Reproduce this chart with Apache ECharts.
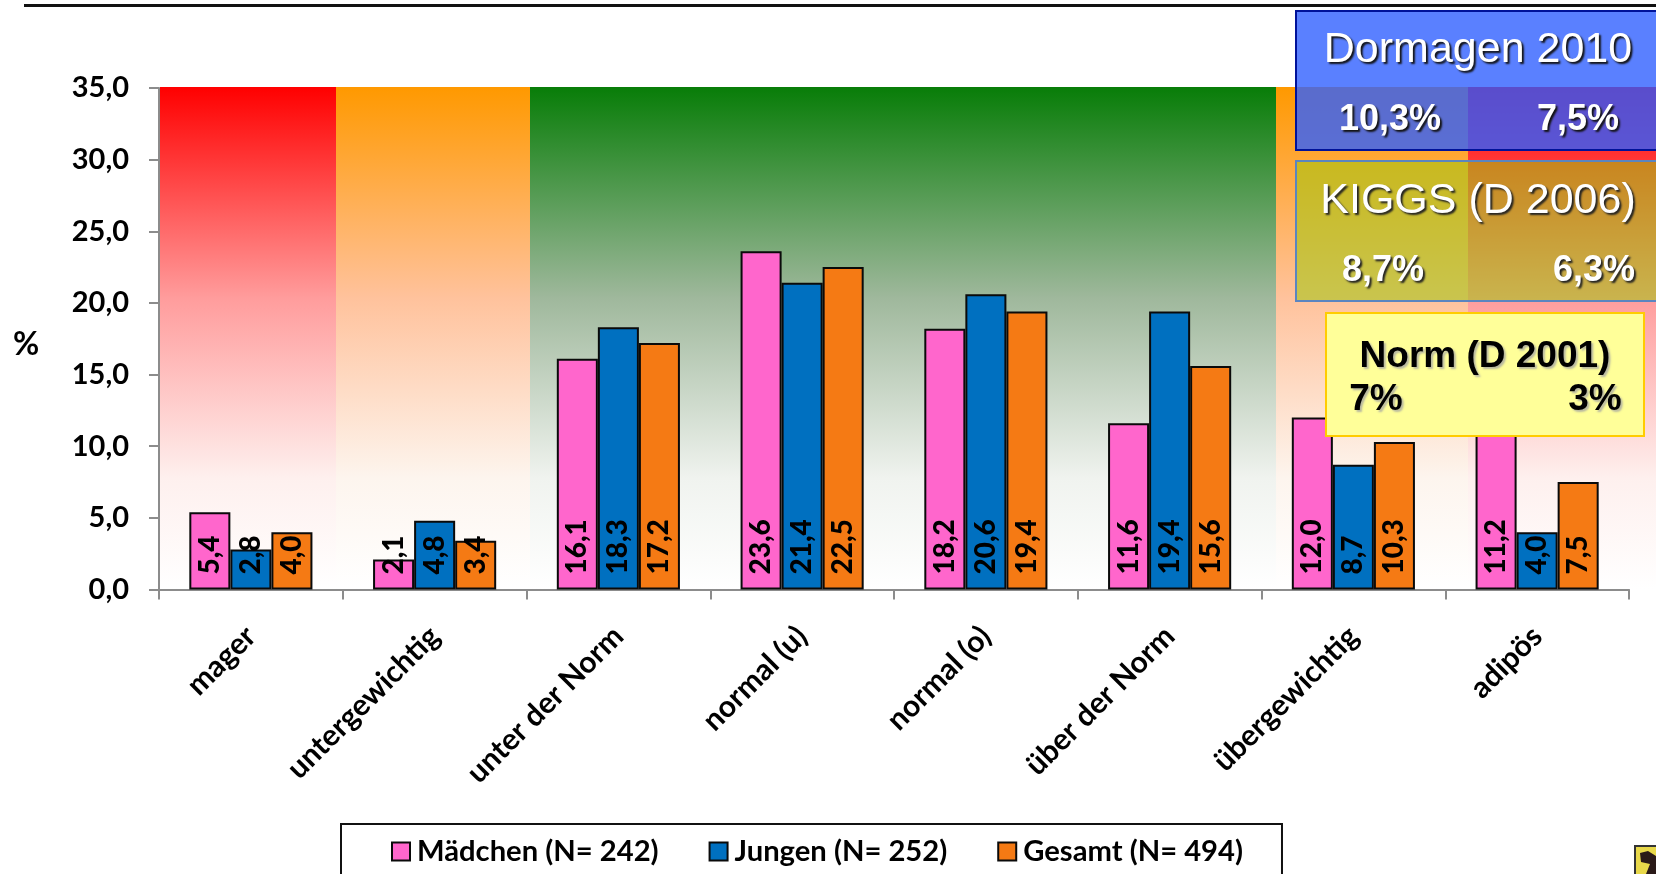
<!DOCTYPE html>
<html>
<head>
<meta charset="utf-8">
<title>Dormagen 2010</title>
<style>
html, body { margin: 0; padding: 0; background: #fff; }
#chart { width: 1656px; height: 874px; }
</style>
<script src="https://cdn.jsdelivr.net/npm/echarts@6/dist/echarts.min.js"></script>
</head>
<body>
<div id="chart"></div>
<script>
var categories = ['mager', 'untergewichtig', 'unter der Norm', 'normal (u)', 'normal (o)', 'über der Norm', 'übergewichtig', 'adipös'];
var maedchen = [5.4, 2.1, 16.1, 23.6, 18.2, 11.6, 12.0, 11.2];
var jungen = [2.8, 4.8, 18.3, 21.4, 20.6, 19.4, 8.7, 4.0];
var gesamt = [4.0, 3.4, 17.2, 22.5, 19.4, 15.6, 10.3, 7.5];
var seriesNames = ['Mädchen (N= 242)', 'Jungen (N= 252)', 'Gesamt (N= 494)'];

var font = 'Lato';
var panelFont = '"Liberation Sans"';

function comma(v) {
  return v.toFixed(1).replace('.', ',');
}

function bandFill(c0, c1, c2) {
  return {
    type: 'linear', x: 0, y: 0, x2: 0, y2: 1,
    colorStops: [
      { offset: 0, color: c0 },
      { offset: 0.42, color: c1 },
      { offset: 0.78, color: c2 },
      { offset: 1, color: '#ffffff' }
    ]
  };
}

function band(x, w, fill) {
  return { type: 'rect', z: -10, silent: true, shape: { x: x, y: 87, width: w, height: 502 }, style: { fill: fill } };
}

function box(x, y, w, h, fill, stroke, lw) {
  return { type: 'rect', z: 100, silent: true, shape: { x: x, y: y, width: w, height: h }, style: { fill: fill, stroke: stroke, lineWidth: lw } };
}

// centred text for the panels top right
function txt(x, y, text, size, bold, color, shadow) {
  return {
    type: 'text', z: 101, silent: true, x: x, y: y,
    style: {
      text: text,
      fill: color,
      font: (bold ? 'bold ' : '') + size + 'px ' + panelFont,
      align: 'center',
      verticalAlign: 'middle',
      textShadowColor: shadow,
      textShadowBlur: 2,
      textShadowOffsetX: 2,
      textShadowOffsetY: 2
    }
  };
}

function barSeries(name, values, color) {
  return {
    name: name,
    type: 'bar',
    data: values,
    barGap: 0,
    barCategoryGap: '33%',
    itemStyle: { color: color, borderColor: '#0a0a0a', borderWidth: 2 },
    label: {
      show: true,
      position: 'insideBottom',
      distance: 15,
      rotate: 90,
      align: 'left',
      verticalAlign: 'middle',
      color: '#000',
      fontFamily: font,
      fontWeight: 900,
      fontSize: 28,
      formatter: function (p) { return comma(p.value); }
    }
  };
}

var chart = echarts.init(document.getElementById('chart'));
chart.setOption({
  backgroundColor: '#fff',
  animation: false,
  grid: { left: 159, right: 27, top: 88, bottom: 284.5 },
  legend: {
    left: 341,
    top: 824,
    data: seriesNames,
    orient: 'horizontal',
    icon: 'rect',
    itemWidth: 18,
    itemHeight: 18,
    itemGap: 50,
    padding: [13, 39, 60, 50],
    borderColor: '#111',
    borderWidth: 2,
    textStyle: { color: '#000', fontFamily: font, fontWeight: 'bold', fontSize: 29.2, padding: [0, 0, 0, 2] }
  },
  xAxis: {
    type: 'category',
    data: categories,
    axisLine: { lineStyle: { color: '#8c8c8c', width: 2 } },
    axisTick: { show: true, length: 10, lineStyle: { color: '#8c8c8c', width: 2 } },
    axisLabel: {
      rotate: 45,
      margin: 42,
      interval: 0,
      color: '#000',
      fontFamily: font,
      fontWeight: 'bold',
      fontSize: 30
    }
  },
  yAxis: {
    type: 'value',
    min: 0,
    max: 35,
    interval: 5,
    splitLine: { show: false },
    axisLine: { show: true, lineStyle: { color: '#8c8c8c', width: 2 } },
    axisTick: { show: true, length: 10, lineStyle: { color: '#8c8c8c', width: 2 } },
    axisLabel: {
      margin: 30,
      color: '#000',
      fontFamily: font,
      fontWeight: 'bold',
      fontSize: 29,
      formatter: function (v) { return comma(v); }
    }
  },
  series: [
    barSeries(seriesNames[0], maedchen, '#ff66cc'),
    barSeries(seriesNames[1], jungen, '#0070c0'),
    barSeries(seriesNames[2], gesamt, '#f57a14')
  ],
  graphic: [
    band(160, 176, bandFill('#ff0000', '#ff9c9c', '#fef0ee')),
    band(336, 194, bandFill('#ff9900', '#ffc29c', '#fdf5ee')),
    band(530, 746, bandFill('#087d08', '#9fb89c', '#f0f3ef')),
    band(1276, 192, bandFill('#ff9900', '#ffc29c', '#fdf5ee')),
    band(1468, 188, bandFill('#ff0000', '#ff9c9c', '#fef0ee')),
    // rule along the top
    { type: 'rect', z: 1, silent: true, shape: { x: 24, y: 4, width: 1632, height: 3 }, style: { fill: '#111' } },
    // y axis title sits lower than the axis middle
    { type: 'text', z: 5, silent: true, x: 26, y: 345, style: { text: '%', fill: '#000', font: 'bold 32px ' + font, align: 'center', verticalAlign: 'middle' } },
    box(1296, 11, 362, 139, 'rgba(49,96,255,0.8)', '#00129a', 2),
    txt(1478, 50, 'Dormagen 2010', 43, false, '#fff', '#111'),
    txt(1390, 120, '10,3%', 36, true, '#fff', '#111'),
    txt(1578, 120, '7,5%', 36, true, '#fff', '#111'),
    box(1296, 161, 362, 140, 'rgba(156,198,13,0.55)', '#5b85c0', 2),
    txt(1478, 201, 'KIGGS (D 2006)', 43, false, '#fff', '#222'),
    txt(1383, 271, '8,7%', 36, true, '#fff', '#222'),
    txt(1594, 271, '6,3%', 36, true, '#fff', '#222'),
    box(1326, 313, 318, 123, '#ffff99', '#ffcc00', 2),
    txt(1485, 357, 'Norm (D 2001)', 37, true, '#000', '#b8b8a0'),
    txt(1376, 400, '7%', 37, true, '#000', '#b8b8a0'),
    txt(1595, 400, '3%', 37, true, '#000', '#b8b8a0'),
    // small crest bottom right
    { type: 'rect', z: 5, silent: true, shape: { x: 1635, y: 846, width: 24, height: 32 }, style: { fill: '#e8d84a', stroke: '#333', lineWidth: 2 } },
    { type: 'polygon', z: 6, silent: true, shape: { points: [[1640, 853], [1648, 851], [1656, 856], [1656, 874], [1646, 874], [1650, 864], [1641, 862]] }, style: { fill: '#2a1a18' } }
  ]
});
</script>
</body>
</html>
